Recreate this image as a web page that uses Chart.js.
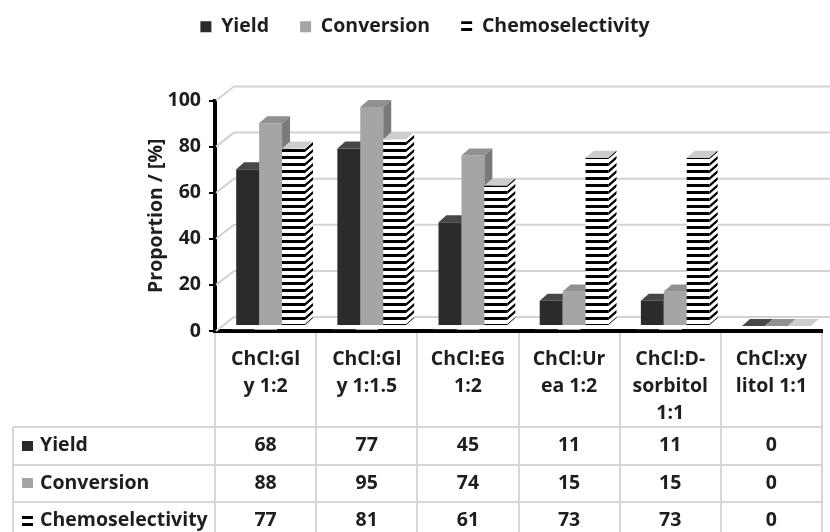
<!DOCTYPE html>
<html>
<head>
<meta charset="utf-8">
<script src="https://cdn.jsdelivr.net/npm/chart.js@4.4.1/dist/chart.umd.min.js"></script>
<style>
  html, body { margin: 0; padding: 0; background: #fff; }
  #wrap { width: 830px; height: 532px; }
</style>
</head>
<body>
<div id="wrap"><canvas id="chart"></canvas></div>
<script>
const categories = [
  ['ChCl:Gl', 'y 1:2'],
  ['ChCl:Gl', 'y 1:1.5'],
  ['ChCl:EG', '1:2'],
  ['ChCl:Ur', 'ea 1:2'],
  ['ChCl:D-', 'sorbitol', '1:1'],
  ['ChCl:xy', 'litol 1:1']
]
const seriesNames = ['Yield', 'Conversion', 'Chemoselectivity']
const yieldValues = [68, 77, 45, 11, 11, 0]
const conversionValues = [88, 95, 74, 15, 15, 0]
const chemoValues = [77, 81, 61, 73, 73, 0]
const yTicks = [0, 20, 40, 60, 80, 100]

const FONT = '"Open Sans", Lato, sans-serif'
const FONT_SIZE = 19.5
const TEXT = '#1e1e1e'

// 3d look
const DEPTH_X = 8, DEPTH_Y = -7
const SHIFT_X = 5, SHIFT_Y = -5
const WALL_X = 19, WALL_Y = -14

function stripes() {
  const c = document.createElement('canvas')
  c.width = 8; c.height = 7
  const g = c.getContext('2d')
  g.fillStyle = '#fff'
  g.fillRect(0, 0, 8, 7)
  g.fillStyle = '#000'
  g.fillRect(0, 0, 8, 3)
  return g.createPattern(c, 'repeat')
}
const stripePattern = stripes()

const fills = ['#2b2b2b', '#a5a5a5', stripePattern]
const faces = [
  { top: '#474747', side: '#1a1a1a' },
  { top: '#909090', side: '#7a7a7a' },
  { top: '#cdcdcd', side: stripePattern }
]

const backWall = {
  id: 'backWall',
  draw(chart) {
    const { ctx, chartArea: a, scales: { y } } = chart
    ctx.save()
    ctx.strokeStyle = '#d2d2d2'
    ctx.lineWidth = 2
    yTicks.forEach(v => {
      const py = y.getPixelForValue(v)
      ctx.beginPath()
      ctx.moveTo(a.left + 1, py)
      ctx.lineTo(a.left + WALL_X, py + WALL_Y)
      ctx.lineTo(a.right + WALL_X, py + WALL_Y)
      ctx.stroke()
    })
    ctx.restore()
  }
}

// repaint bars left to right so each one hides the side of its neighbour
const depth = {
  id: 'depth',
  afterDatasetsDraw(chart) {
    const ctx = chart.ctx
    const a = chart.chartArea
    ctx.save()
    ctx.fillStyle = '#fff'
    ctx.fillRect(a.left + 3, a.top - 20, a.right - a.left + 20, a.bottom - a.top + 18)
    backWall.draw(chart)
    ctx.translate(SHIFT_X, SHIFT_Y)
    const metas = chart.data.datasets.map((d, i) => chart.getDatasetMeta(i))
    categories.forEach((c, idx) => {
      metas.forEach((meta, s) => {
        const bar = meta.data[idx]
        const face = faces[s]
        const l = bar.x - bar.width / 2
        const r = bar.x + bar.width / 2
        const t = bar.y
        const b = bar.base
        bar.draw(ctx)
        ctx.beginPath()
        ctx.moveTo(l, t)
        ctx.lineTo(l + DEPTH_X, t + DEPTH_Y)
        ctx.lineTo(r + DEPTH_X, t + DEPTH_Y)
        ctx.lineTo(r, t)
        ctx.closePath()
        ctx.fillStyle = face.top
        ctx.fill()
        if (b - t < 1) return
        ctx.save()
        ctx.transform(1, DEPTH_Y / DEPTH_X, 0, 1, 0, -r * DEPTH_Y / DEPTH_X)
        ctx.fillStyle = face.side
        ctx.fillRect(r, t, DEPTH_X, b - t)
        ctx.restore()
      })
    })
    ctx.restore()
  }
}

const dataTable = {
  id: 'dataTable',
  afterDraw(chart) {
    const { ctx, chartArea: a, scales: { x } } = chart
    const colW = (a.right - a.left) / categories.length
    const headBottom = a.bottom + 96
    const rowH = 37.5
    const tableLeft = 13
    ctx.save()
    ctx.strokeStyle = '#d6d6d6'
    ctx.lineWidth = 2
    ctx.beginPath()
    for (let k = 0; k <= categories.length; k++) {
      const px = Math.round(a.left + k * colW)
      ctx.moveTo(px, a.bottom + 2)
      ctx.lineTo(px, chart.height)
    }
    ctx.moveTo(tableLeft, headBottom)
    ctx.lineTo(tableLeft, chart.height)
    for (let r = 0; r < 3; r++) {
      const py = Math.round(headBottom + r * rowH)
      ctx.moveTo(tableLeft, py)
      ctx.lineTo(a.right, py)
    }
    ctx.stroke()

    ctx.fillStyle = TEXT
    ctx.font = `bold ${FONT_SIZE}px ${FONT}`
    ctx.textAlign = 'center'
    ctx.textBaseline = 'middle'
    categories.forEach((lines, i) => {
      const cx = x.getPixelForValue(i)
      lines.forEach((txt, j) => ctx.fillText(txt, cx, a.bottom + 28 + j * 27))
    })

    const rows = [yieldValues, conversionValues, chemoValues]
    rows.forEach((vals, r) => {
      const cy = headBottom + r * rowH + rowH / 2
      // key square, pattern phase pinned so the stripe key reads as "="
      ctx.save()
      ctx.translate(22, Math.round(cy - 5))
      ctx.fillStyle = fills[r]
      ctx.fillRect(0, 0, 11, 10)
      ctx.restore()
      ctx.fillStyle = TEXT
      ctx.textAlign = 'left'
      ctx.fillText(seriesNames[r], 40, cy)
      ctx.textAlign = 'center'
      vals.forEach((v, i) => ctx.fillText(String(v), x.getPixelForValue(i), cy))
    })
    ctx.restore()
  }
}

const datasets = [yieldValues, conversionValues, chemoValues].map((data, i) => ({
  label: seriesNames[i],
  data,
  backgroundColor: fills[i],
  borderWidth: 0,
  clip: false
}))

new Chart(document.getElementById('chart'), {
  type: 'bar',
  data: { labels: categories, datasets },
  options: {
    responsive: true,
    maintainAspectRatio: false,
    animation: false,
    layout: { padding: { top: -14, left: 28, right: 8, bottom: 0 } },
    categoryPercentage: 0.68,
    barPercentage: 1,
    plugins: {
      legend: {
        position: 'top',
        labels: {
          color: TEXT,
          font: { family: FONT, size: FONT_SIZE, weight: 'bold' },
          boxWidth: 11,
          boxHeight: 11,
          padding: 31
        }
      },
      subtitle: {
        display: true,
        text: '',
        weight: 500,
        font: { size: 10 },
        padding: { top: 0, bottom: 42 }
      },
      tooltip: { enabled: false }
    },
    scales: {
      x: {
        grid: { display: false },
        border: { display: true, color: '#000', width: 4 },
        ticks: { display: false },
        afterFit: s => { s.height = 201 }
      },
      y: {
        min: 0,
        max: 100,
        afterBuildTicks: s => { s.ticks = yTicks.map(v => ({ value: v })) },
        ticks: {
          color: TEXT,
          font: { family: FONT, size: FONT_SIZE, weight: 'bold' },
          padding: 8
        },
        grid: { drawOnChartArea: false, drawTicks: true, tickLength: 6, color: '#000', lineWidth: 2 },
        border: { display: true, color: '#000', width: 4 },
        title: {
          display: true,
          text: 'Proportion / [%]',
          color: TEXT,
          font: { family: FONT, size: FONT_SIZE, weight: 'bold' },
          padding: { top: 117, bottom: 0 }
        },
        afterFit: s => { s.width = 187 }
      }
    }
  },
  plugins: [depth, dataTable]
})
</script>
</body>
</html>
